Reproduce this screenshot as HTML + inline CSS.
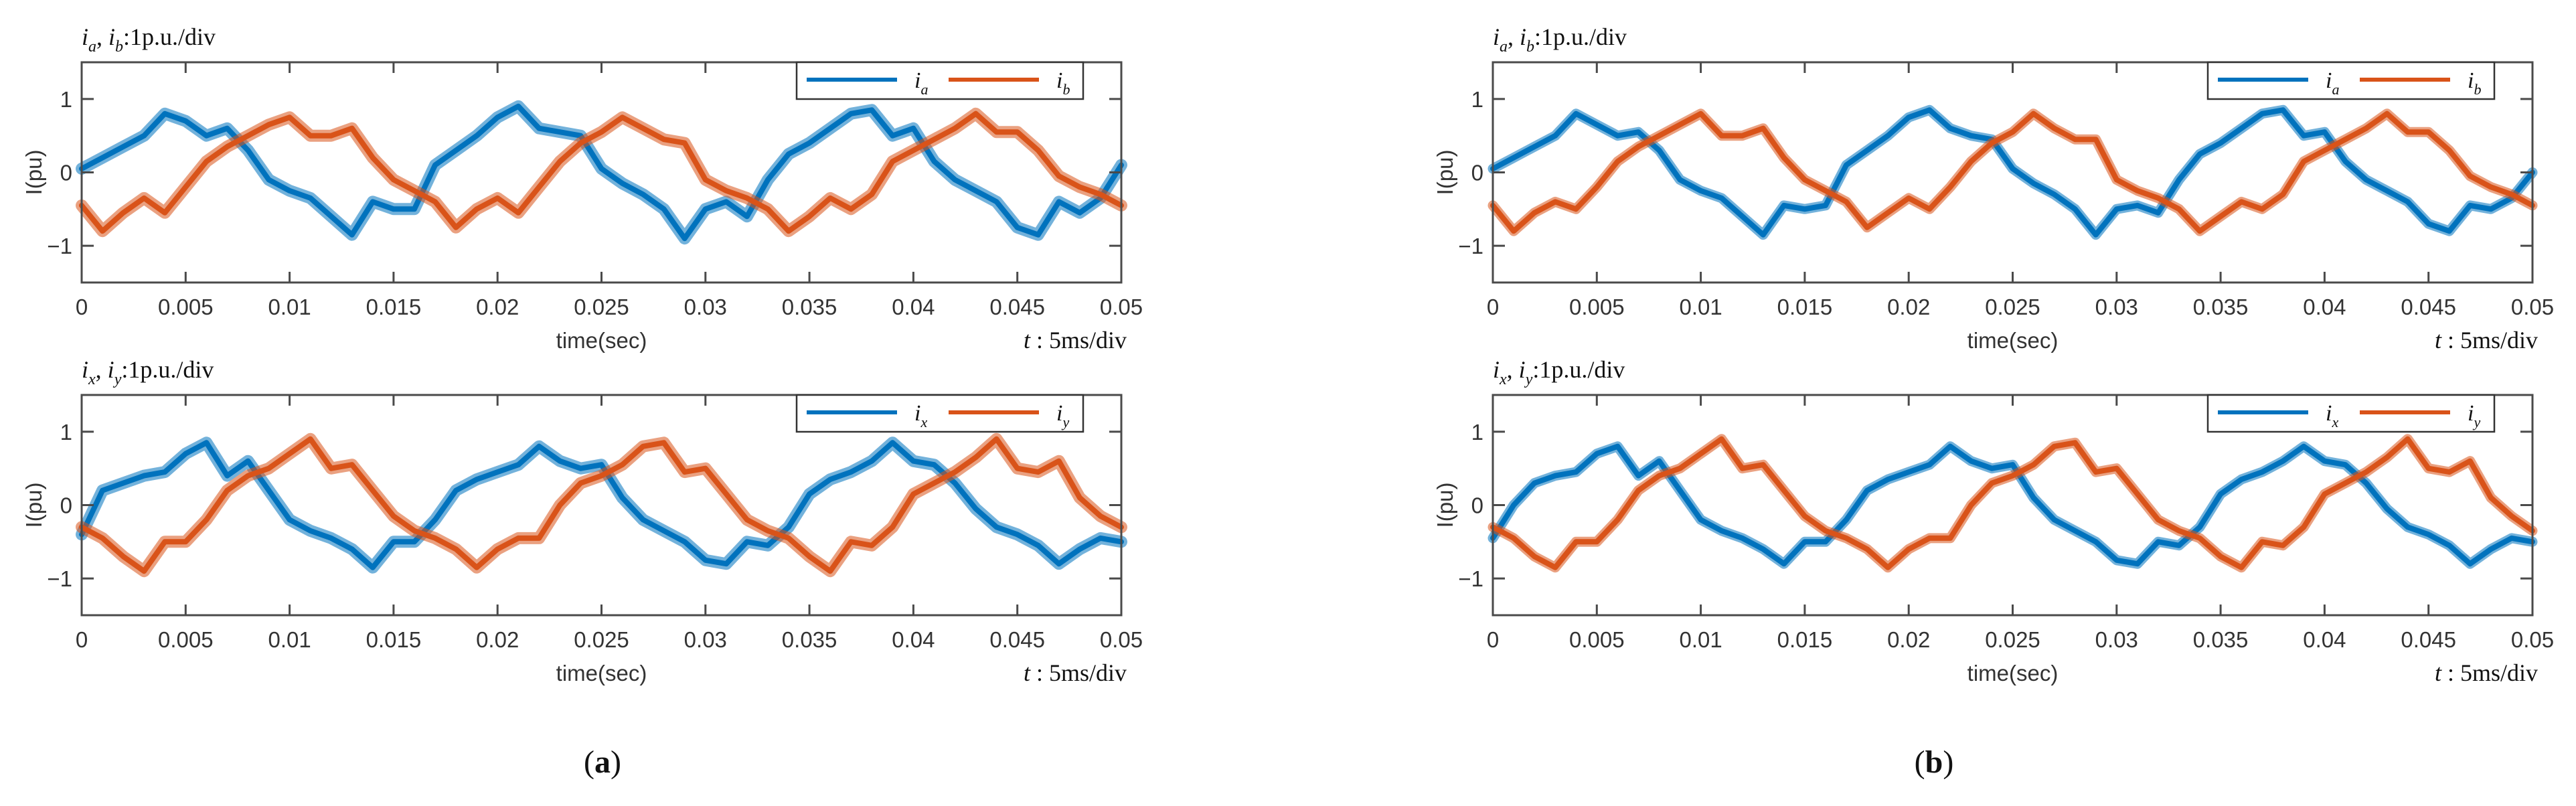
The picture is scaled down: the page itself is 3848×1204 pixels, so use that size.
<!DOCTYPE html>
<html><head><meta charset="utf-8">
<style>
html,body{margin:0;padding:0;background:#fff;}
svg{display:block;}
.tick{font-family:"Liberation Sans",sans-serif;font-size:33px;fill:#333;}
.ser{font-family:"Liberation Serif",serif;fill:#111;}
</style></head>
<body>
<svg id="fig" width="3848" height="1204" viewBox="0 0 3848 1204" xmlns="http://www.w3.org/2000/svg"></svg>
<script>
// time samples (seconds), 1 ms spacing
const times = [];
for (let k = 0; k <= 50; k++) times.push(k / 1000);
const xTicks = [0,0.005,0.01,0.015,0.02,0.025,0.03,0.035,0.04,0.045,0.05];
const xTickLabels = ["0","0.005","0.01","0.015","0.02","0.025","0.03","0.035","0.04","0.045","0.05"];
const yTicks = [-1,0,1];
const yTickLabels = ["\u22121","0","1"];

const iaA = [0.05,0.2,0.35,0.5,0.8,0.7,0.5,0.6,0.3,-0.1,-0.25,-0.35,-0.6,-0.85,-0.4,-0.5,-0.5,0.1,0.3,0.5,0.75,0.9,0.6,0.55,0.5,0.05,-0.15,-0.3,-0.5,-0.9,-0.5,-0.4,-0.6,-0.1,0.25,0.4,0.6,0.8,0.85,0.5,0.6,0.15,-0.1,-0.25,-0.4,-0.75,-0.85,-0.4,-0.55,-0.35,0.1];
const ibA = [-0.45,-0.8,-0.55,-0.35,-0.55,-0.2,0.15,0.35,0.5,0.65,0.75,0.5,0.5,0.6,0.2,-0.1,-0.25,-0.4,-0.75,-0.5,-0.35,-0.55,-0.2,0.15,0.4,0.55,0.75,0.6,0.45,0.4,-0.1,-0.25,-0.35,-0.5,-0.8,-0.6,-0.35,-0.5,-0.3,0.15,0.3,0.45,0.6,0.8,0.55,0.55,0.3,-0.05,-0.2,-0.3,-0.45];
const ixA = [-0.4,0.2,0.3,0.4,0.45,0.7,0.85,0.4,0.6,0.2,-0.2,-0.35,-0.45,-0.6,-0.85,-0.5,-0.5,-0.2,0.2,0.35,0.45,0.55,0.8,0.6,0.5,0.55,0.1,-0.2,-0.35,-0.5,-0.75,-0.8,-0.5,-0.55,-0.3,0.15,0.35,0.45,0.6,0.85,0.6,0.55,0.3,-0.05,-0.3,-0.4,-0.55,-0.8,-0.6,-0.45,-0.5];
const iyA = [-0.3,-0.45,-0.7,-0.9,-0.5,-0.5,-0.2,0.2,0.4,0.5,0.7,0.9,0.5,0.55,0.2,-0.15,-0.35,-0.45,-0.6,-0.85,-0.6,-0.45,-0.45,0.0,0.3,0.4,0.55,0.8,0.85,0.45,0.5,0.15,-0.2,-0.35,-0.45,-0.7,-0.9,-0.5,-0.55,-0.3,0.15,0.3,0.45,0.65,0.9,0.5,0.45,0.6,0.1,-0.15,-0.3];

const iaB = [0.05,0.2,0.35,0.5,0.8,0.65,0.5,0.55,0.3,-0.1,-0.25,-0.35,-0.6,-0.85,-0.45,-0.5,-0.45,0.1,0.3,0.5,0.75,0.85,0.6,0.5,0.45,0.05,-0.15,-0.3,-0.5,-0.85,-0.5,-0.45,-0.55,-0.1,0.25,0.4,0.6,0.8,0.85,0.5,0.55,0.15,-0.1,-0.25,-0.4,-0.7,-0.8,-0.45,-0.5,-0.35,0.0];
const ibB = [-0.45,-0.8,-0.55,-0.4,-0.5,-0.2,0.15,0.35,0.5,0.65,0.8,0.5,0.5,0.6,0.2,-0.1,-0.25,-0.4,-0.75,-0.55,-0.35,-0.5,-0.2,0.15,0.4,0.55,0.8,0.6,0.45,0.45,-0.1,-0.25,-0.35,-0.5,-0.8,-0.6,-0.4,-0.5,-0.3,0.15,0.3,0.45,0.6,0.8,0.55,0.55,0.3,-0.05,-0.2,-0.3,-0.45];
const ixB = [-0.45,0.0,0.3,0.4,0.45,0.7,0.8,0.4,0.6,0.2,-0.2,-0.35,-0.45,-0.6,-0.8,-0.5,-0.5,-0.2,0.2,0.35,0.45,0.55,0.8,0.6,0.5,0.55,0.1,-0.2,-0.35,-0.5,-0.75,-0.8,-0.5,-0.55,-0.3,0.15,0.35,0.45,0.6,0.8,0.6,0.55,0.3,-0.05,-0.3,-0.4,-0.55,-0.8,-0.6,-0.45,-0.5];
const iyB = [-0.3,-0.45,-0.7,-0.85,-0.5,-0.5,-0.2,0.2,0.4,0.5,0.7,0.9,0.5,0.55,0.2,-0.15,-0.35,-0.45,-0.6,-0.85,-0.6,-0.45,-0.45,0.0,0.3,0.4,0.55,0.8,0.85,0.45,0.5,0.15,-0.2,-0.35,-0.45,-0.7,-0.85,-0.5,-0.55,-0.3,0.15,0.3,0.45,0.65,0.9,0.5,0.45,0.6,0.1,-0.15,-0.35];

const NS = "http://www.w3.org/2000/svg";
const svg = document.getElementById('fig');
const BLUE = "#0072BD", ORANGE = "#D95319";
function mk(tag, attrs, parent, text) {
  const e = document.createElementNS(NS, tag);
  for (const k in attrs) e.setAttribute(k, attrs[k]);
  if (text !== undefined) e.textContent = text;
  (parent || svg).appendChild(e);
  return e;
}

function panel(px, py, name, s1, s2, n1, n2, width, subs) {
  const L = px, R = px + 1553, T = py, B = py + 329;
  const g = mk('g', {});
  
  
  const xs = t => L + (t / 0.05) * (R - L);
  const ys = v => (T + B) / 2 - v * ((B - T) / 3);
  const title = mk('text', {x: L, y: T - 26, class: 'ser', 'font-size': 36}, g);
  
  
  title.innerHTML = '<tspan font-style="italic">i</tspan><tspan font-size="24" dy="10" font-style="italic">' + subs[0] + '</tspan><tspan dy="-10">, </tspan><tspan font-style="italic">i</tspan><tspan font-size="24" dy="10" font-style="italic">' + subs[1] + '</tspan><tspan dy="-10">:1p.u./div</tspan>';
  [[s1, BLUE, n1], [s2, ORANGE, n2]].forEach(([arr, col, nm]) => {
    const d = arr.map((v, i) => (i ? 'L' : 'M') + xs(times[i]).toFixed(1) + ' ' + ys(v).toFixed(1)).join(' ');
    const band = mk('path', {d: d, fill: 'none', stroke: col, 'stroke-width': width, 'stroke-linejoin': 'round', 'stroke-linecap': 'round', 'stroke-opacity': 0.55}, g);
    
    
    const p = mk('path', {d: d, fill: 'none', stroke: col, 'stroke-width': 8, 'stroke-linejoin': 'round', 'stroke-linecap': 'round'}, g);
    
    
  });
  const box = mk('rect', {x: L, y: T, width: R - L, height: B - T, fill: 'none', stroke: '#4a4a4a', 'stroke-width': 3}, g);
  
  
  xTicks.forEach((t, i) => {
    const x = xs(t);
    mk('line', {x1: x, y1: B, x2: x, y2: B - 16, stroke: '#4a4a4a', 'stroke-width': 3}, g);
    mk('line', {x1: x, y1: T, x2: x, y2: T + 16, stroke: '#4a4a4a', 'stroke-width': 3}, g);
    const tl = mk('text', {x: x, y: B + 48, 'text-anchor': 'middle', class: 'tick'}, g, xTickLabels[i]);
    
    
  });
  yTicks.forEach((v, i) => {
    const y = ys(v);
    mk('line', {x1: L, y1: y, x2: L + 18, y2: y, stroke: '#4a4a4a', 'stroke-width': 3}, g);
    mk('line', {x1: R, y1: y, x2: R - 18, y2: y, stroke: '#4a4a4a', 'stroke-width': 3}, g);
    const tl = mk('text', {x: L - 14, y: y + 12, 'text-anchor': 'end', class: 'tick'}, g, yTickLabels[i]);
    
    
  });
  const yl = mk('text', {x: 0, y: 0, 'text-anchor': 'middle', class: 'tick', transform: 'translate(' + (L - 60) + ',' + ((T + B) / 2) + ') rotate(-90)'}, g, 'I(pu)');
  
  
  const xl = mk('text', {x: (L + R) / 2, y: B + 98, 'text-anchor': 'middle', class: 'tick'}, g, 'time(sec)');
  
  
  const tdiv = mk('text', {x: R + 8, y: B + 98, 'text-anchor': 'end', class: 'ser', 'font-size': 36}, g);
  
  
  tdiv.innerHTML = '<tspan font-style="italic">t</tspan> : 5ms/div';
  const lx = L + 1068, lw = 428;
  const lg = mk('g', {}, g);
  
  
  mk('rect', {x: lx, y: T, width: lw, height: 55, fill: '#fff', stroke: '#333', 'stroke-width': 2.5}, lg);
  [[BLUE, subs[0], 0], [ORANGE, subs[1], 212]].forEach(([col, sub, off]) => {
    const e = mk('g', {}, lg);
    
    
    mk('line', {x1: lx + 15 + off, y1: T + 26, x2: lx + 150 + off, y2: T + 26, stroke: col, 'stroke-width': 6}, e);
    const t = mk('text', {x: lx + 176 + off, y: T + 38, class: 'ser', 'font-size': 34}, e);
    t.innerHTML = '<tspan font-style="italic">i</tspan><tspan font-size="22" dy="10" font-style="italic">' + sub + '</tspan>';
  });
}

panel(122, 93, 'chart-a-top', iaA, ibA, 'ia', 'ib', 18, ['a','b']);
panel(122, 590, 'chart-a-bottom', ixA, iyA, 'ix', 'iy', 18, ['x','y']);
panel(2230, 93, 'chart-b-top', iaB, ibB, 'ia', 'ib', 15, ['a','b']);
panel(2230, 590, 'chart-b-bottom', ixB, iyB, 'ix', 'iy', 15, ['x','y']);

const ca = mk('text', {x: 900, y: 1154, 'text-anchor': 'middle', class: 'ser', 'font-size': 48});


ca.innerHTML = '(<tspan font-weight="bold">a</tspan>)';
const cb = mk('text', {x: 2889, y: 1154, 'text-anchor': 'middle', class: 'ser', 'font-size': 48});


cb.innerHTML = '(<tspan font-weight="bold">b</tspan>)';
</script>
</body></html>
